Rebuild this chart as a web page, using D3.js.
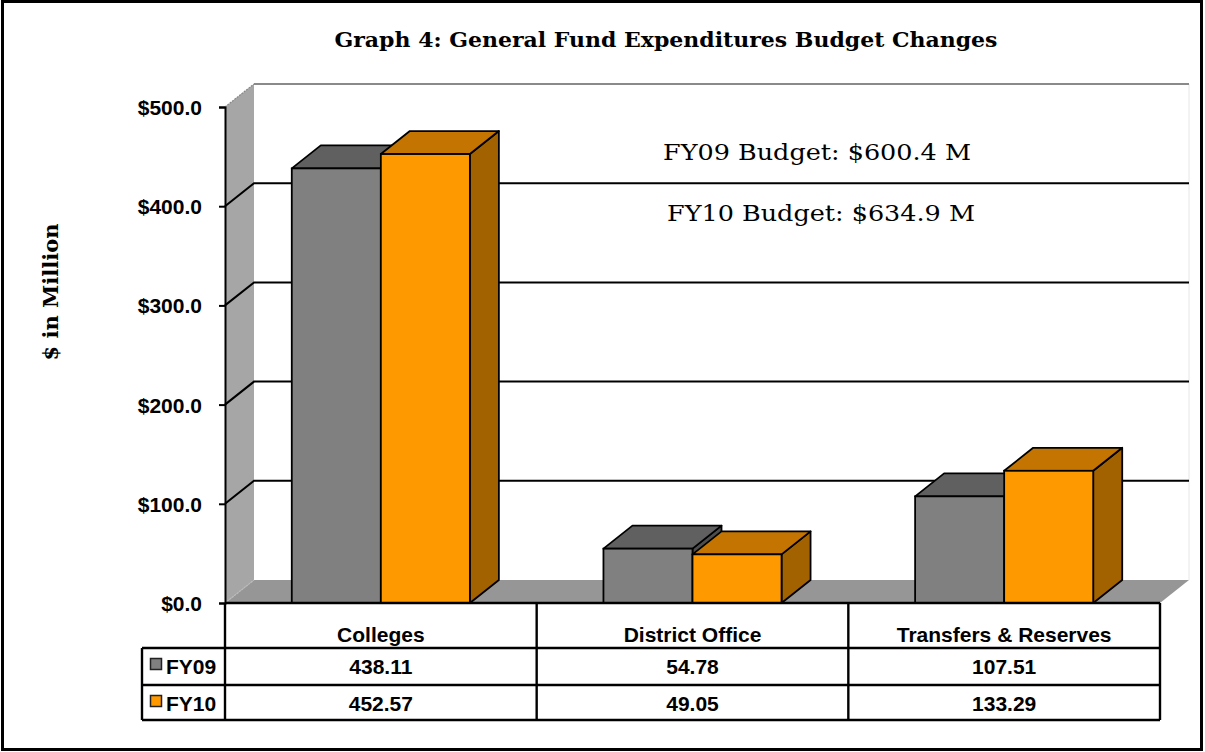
<!DOCTYPE html>
<html>
<head>
<meta charset="utf-8">
<script src="https://cdn.jsdelivr.net/npm/d3@7"></script>
<style>
  body { margin: 0; background: #fff; }
  svg text { font-family: "Liberation Sans", Arial, sans-serif; font-weight: bold; }
</style>
</head>
<body>
<svg id="chart"></svg>
<script>
const width = 1205;
const height = 752;

// data
const categories = ['Colleges', 'District Office', 'Transfers & Reserves'];
const series = ['FY09', 'FY10'];
const fy09 = [438.11, 54.78, 107.51];
const fy10 = [452.57, 49.05, 133.29];
const yTicks = [0, 100, 200, 300, 400, 500];
const notes = ['FY09 Budget: $600.4 M', 'FY10 Budget: $634.9 M'];

const values = { FY09: fy09, FY10: fy10 };
const colors = {
  FY09: { front: '#808080', top: '#606060', side: '#4d4d4d' },
  FY10: { front: '#ff9900', top: '#c47400', side: '#a36200' }
};

// depth offset of the 3d box
const dx = 29, dy = -23;

const svg = d3.select('#chart')
  .attr('width', width)
  .attr('height', height);

const x = d3.scaleBand()
  .domain(categories)
  .range([225, 1160]);

const xSub = d3.scaleBand()
  .domain(series)
  .range([0, x.bandwidth()])
  .paddingOuter(0.75);

const y = d3.scaleLinear()
  .domain([0, 500])
  .range([603, 107]);

const x0 = x.range()[0], x1 = x.range()[1];

// outer frame
svg.append('rect')
  .attr('x', 2.5).attr('y', 1.5)
  .attr('width', 1199).attr('height', 748)
  .attr('fill', 'none').attr('stroke', '#000').attr('stroke-width', 3);

// title
svg.append('text')
  .attr('x', 666).attr('y', 47)
  .attr('text-anchor', 'middle')
  .attr('textLength', 663).attr('lengthAdjust', 'spacingAndGlyphs')
  .style('font-family', '"DejaVu Serif", serif')
  .style('font-size', '20px')
  .text('Graph 4: General Fund Expenditures Budget Changes');

// left wall
svg.append('path')
  .attr('d', `M${x0},${y(500)} L${x0 + dx},${y(500) + dy} L${x0 + dx},${y(0) + dy} L${x0},${y(0)} Z`)
  .attr('fill', '#a6a6a6');

// floor
svg.append('path')
  .attr('d', `M${x0},${y(0)} L${x0 + dx},${y(0) + dy} L${x1 + dx},${y(0) + dy} L${x1},${y(0)} Z`)
  .attr('fill', '#969696');

// faint wall edges
svg.append('line')
  .attr('x1', x1 + dx).attr('x2', x1 + dx)
  .attr('y1', y(500) + dy).attr('y2', y(0) + dy)
  .attr('stroke', '#e6e6e6').attr('stroke-width', 1);
svg.append('line')
  .attr('x1', x0).attr('y1', y(500))
  .attr('x2', x0 + dx).attr('y2', y(500) + dy)
  .attr('stroke', '#888').attr('stroke-width', 1.2).attr('stroke-dasharray', '2,1');
svg.append('line')
  .attr('x1', x0).attr('y1', y(0))
  .attr('x2', x0 + dx).attr('y2', y(0) + dy)
  .attr('stroke', '#bbb').attr('stroke-width', 1.2).attr('stroke-dasharray', '2,1');

// gridlines
svg.append('g')
  .selectAll('path')
  .data(yTicks.filter(d => d > 0 && d < 500))
  .enter()
  .append('path')
  .attr('d', d => `M${x0},${y(d)} L${x0 + dx},${y(d) + dy} L${x1 + dx},${y(d) + dy}`)
  .attr('fill', 'none')
  .attr('stroke', '#000')
  .attr('stroke-width', 2);

svg.append('line')
  .attr('x1', x0 + dx).attr('x2', x1 + dx)
  .attr('y1', y(500) + dy).attr('y2', y(500) + dy)
  .attr('stroke', '#8a8a8a').attr('stroke-width', 2);

// budget notes
svg.append('g')
  .selectAll('text')
  .data(notes)
  .enter()
  .append('text')
  .attr('x', (d, i) => i === 0 ? 663 : 667)
  .attr('y', (d, i) => i === 0 ? 160 : 221)
  .attr('textLength', 308).attr('lengthAdjust', 'spacingAndGlyphs')
  .style('font-family', '"DejaVu Serif", serif')
  .style('font-weight', 'normal')
  .style('font-size', '22px')
  .text(d => d);

// bars
const bars = [];
categories.forEach((c, ci) => {
  series.forEach(s => {
    bars.push({ cat: c, key: s, value: values[s][ci] });
  });
});

const barG = svg.append('g')
  .selectAll('g')
  .data(bars)
  .enter()
  .append('g');

barG.each(function (d) {
  const g = d3.select(this);
  const bx = x(d.cat) + xSub(d.key);
  const bw = xSub.bandwidth();
  const top = y(d.value);
  const bottom = y(0);
  const col = colors[d.key];
  // side
  g.append('path')
    .attr('d', `M${bx + bw},${top} L${bx + bw + dx},${top + dy} L${bx + bw + dx},${bottom + dy} L${bx + bw},${bottom} Z`)
    .attr('fill', col.side).attr('stroke', '#000').attr('stroke-width', 1.8).attr('stroke-linejoin', 'round');
  // top
  g.append('path')
    .attr('d', `M${bx},${top} L${bx + dx},${top + dy} L${bx + bw + dx},${top + dy} L${bx + bw},${top} Z`)
    .attr('fill', col.top).attr('stroke', '#000').attr('stroke-width', 1.8).attr('stroke-linejoin', 'round');
  // front
  g.append('rect')
    .attr('x', bx).attr('y', top)
    .attr('width', bw).attr('height', bottom - top)
    .attr('fill', col.front).attr('stroke', '#000').attr('stroke-width', 1.8);
});

// y axis
const yAxis = d3.axisLeft(y)
  .tickValues(yTicks)
  .tickSize(6)
  .tickPadding(17)
  .tickFormat(d => '$' + d3.format('.1f')(d));

const yAxisG = svg.append('g')
  .attr('transform', `translate(${x0},0)`)
  .call(yAxis);
yAxisG.select('.domain').attr('stroke-width', 2);
yAxisG.selectAll('.tick line').attr('stroke-width', 2);
yAxisG.selectAll('text')
  .attr('dy', '0.36em')
  .style('font-size', '21px')
  .style('fill', '#000');

// y axis title
svg.append('text')
  .attr('transform', 'translate(58,292) rotate(-90)')
  .attr('text-anchor', 'middle')
  .attr('textLength', 137).attr('lengthAdjust', 'spacingAndGlyphs')
  .style('font-family', '"DejaVu Serif", serif')
  .style('font-size', '20px')
  .text('$ in Million');

// data table
const rowY = [603, 648, 685, 720];
const tableLeft = 142;
const table = svg.append('g');

const hLines = [
  { x1: x0, x2: x1, y: rowY[0] },
  { x1: tableLeft, x2: x1, y: rowY[1] },
  { x1: tableLeft, x2: x1, y: rowY[2] },
  { x1: tableLeft, x2: x1, y: rowY[3] }
];
table.selectAll('line.h')
  .data(hLines)
  .enter()
  .append('line')
  .attr('class', 'h')
  .attr('x1', d => d.x1).attr('x2', d => d.x2)
  .attr('y1', d => d.y).attr('y2', d => d.y)
  .attr('stroke', '#000').attr('stroke-width', 2.4);

const vLines = categories.map(c => x(c)).concat([x1]);
table.selectAll('line.v')
  .data(vLines)
  .enter()
  .append('line')
  .attr('class', 'v')
  .attr('x1', d => d).attr('x2', d => d)
  .attr('y1', rowY[0]).attr('y2', rowY[3])
  .attr('stroke', '#000').attr('stroke-width', 2.4);

table.append('line')
  .attr('x1', tableLeft).attr('x2', tableLeft)
  .attr('y1', rowY[1]).attr('y2', rowY[3])
  .attr('stroke', '#000').attr('stroke-width', 2.4);

table.selectAll('text.cat')
  .data(categories)
  .enter()
  .append('text')
  .attr('class', 'cat')
  .attr('x', d => x(d) + x.bandwidth() / 2)
  .attr('y', 642)
  .attr('text-anchor', 'middle')
  .style('font-size', '21px')
  .text(d => d);

series.forEach((s, si) => {
  const base = si === 0 ? 674 : 711;
  table.selectAll('text.v' + s)
    .data(values[s])
    .enter()
    .append('text')
    .attr('x', (d, i) => x(categories[i]) + x.bandwidth() / 2)
    .attr('y', base)
    .attr('text-anchor', 'middle')
    .style('font-size', '21px')
    .text(d => d3.format('.2f')(d));

  table.append('rect')
    .attr('x', 150.5).attr('y', base - 15.5)
    .attr('width', 11).attr('height', 11)
    .attr('fill', colors[s].front)
    .attr('stroke', '#222').attr('stroke-width', 1.5);

  table.append('text')
    .attr('x', 166)
    .attr('y', base)
    .style('font-size', '21px')
    .text(s);
});
</script>
</body>
</html>
